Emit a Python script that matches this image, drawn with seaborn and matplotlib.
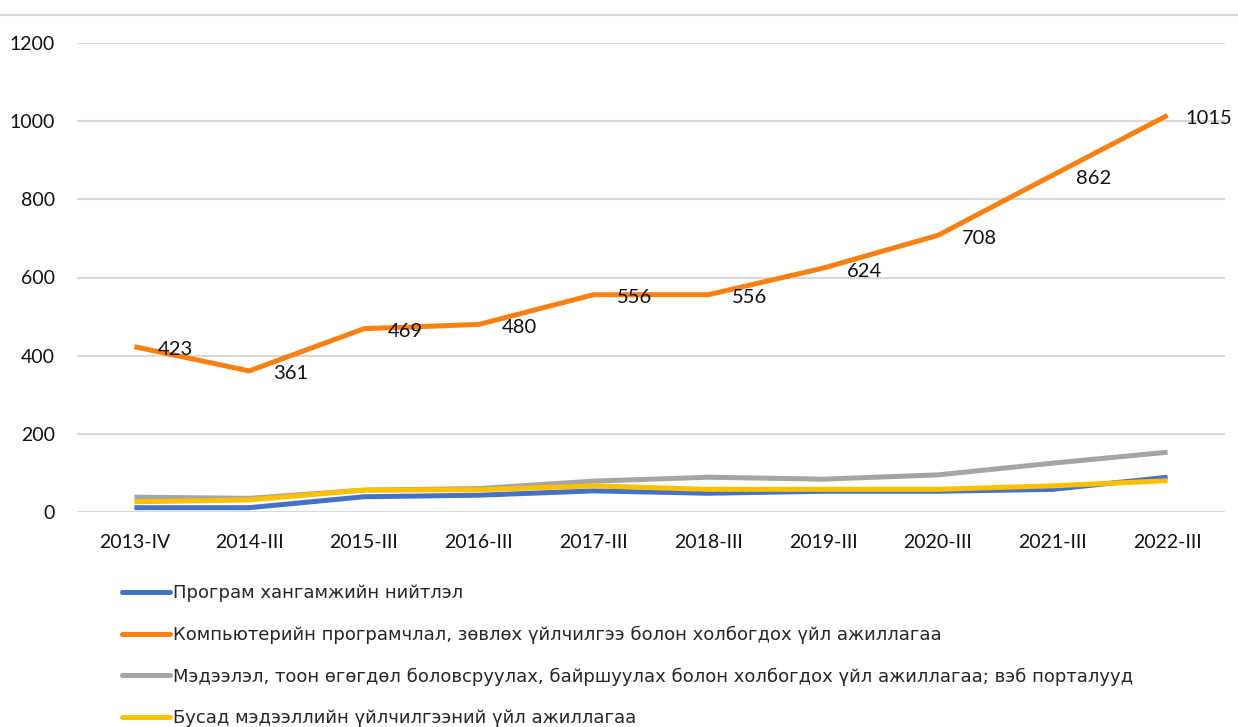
import matplotlib
matplotlib.use("Agg")
import matplotlib.pyplot as plt
from matplotlib.lines import Line2D
import seaborn as sns
import pandas as pd

categories = ["2013-IV", "2014-III", "2015-III", "2016-III", "2017-III",
              "2018-III", "2019-III", "2020-III", "2021-III", "2022-III"]
series_names = [
    "Програм хангамжийн нийтлэл",
    "Компьютерийн програмчлал, зөвлөх үйлчилгээ болон холбогдох үйл ажиллагаа",
    "Мэдээлэл, тоон өгөгдөл боловсруулах, байршуулах болон холбогдох үйл ажиллагаа; вэб порталууд",
    "Бусад мэдээллийн үйлчилгээний үйл ажиллагаа",
]
software = [11, 11, 39, 43, 54, 48, 53, 53, 58, 89]
programming = [423, 361, 469, 480, 556, 556, 624, 708, 862, 1015]
data_proc = [38, 35, 56, 60, 79, 89, 84, 95, 125, 153]
other = [26, 31, 56, 57, 67, 58, 58, 58, 67, 80]
yticks = [0, 200, 400, 600, 800, 1000, 1200]
colors = ["#4472C4", "#F98012", "#A5A5A5", "#FFC000"]

values = [software, programming, data_proc, other]
rows = []
for name, vals in zip(series_names, values):
    for c, v in zip(categories, vals):
        rows.append({"cat": c, "value": v, "series": name})
df = pd.DataFrame(rows)

sns.set_theme(style="white")
plt.rcParams['font.family'] = ['Lato', 'DejaVu Sans']

fig = plt.figure(figsize=(12.38, 7.27), dpi=100)
ax = fig.add_axes([77/1238, (727-512)/727, (1225-77)/1238, (512-43)/727])

sns.lineplot(data=df, x="cat", y="value", hue="series", hue_order=series_names,
             palette=colors, linewidth=3.6, sort=False, ax=ax, legend=False,
             clip_on=False)
for ln in ax.lines:
    ln.set_solid_capstyle("butt")

ax.set_xlim(-0.5, 9.5)
ax.set_ylim(0, 1200)
ax.set_yticks(yticks)
ax.set_yticklabels([str(t) for t in yticks])
ax.grid(axis="y", color="#D9D9D9", linewidth=1.5)
ax.grid(axis="x", visible=False)
ax.set_axisbelow(True)
for s in ax.spines.values():
    s.set_visible(False)
ax.set_xlabel("")
ax.set_ylabel("")
ax.tick_params(axis="x", length=0, pad=16, labelsize=14, labelcolor="#111111")
ax.tick_params(axis="y", length=0, pad=16, labelsize=14, labelcolor="#111111")

for i, v in enumerate(programming):
    ax.annotate(str(v), xy=(i, v), xytext=(41, -3), textcoords="offset pixels",
                ha="center", va="center", fontsize=14.5, color="#111111")

handles = [Line2D([0], [0], color=c, lw=3.6) for c in colors]
leg = fig.legend(handles, series_names, loc="upper left",
                 bbox_to_anchor=(106/1238, 1 - 568/727), frameon=False,
                 handlelength=2.65, handletextpad=0.15, labelspacing=1.3,
                 prop={"family": ["DejaVu Sans"], "size": 13})

fig.add_artist(Line2D([0, 1], [1 - 15/727, 1 - 15/727], color="#D9D9D9", lw=1.5,
                      transform=fig.transFigure))

fig.savefig("out.png", dpi=100)
